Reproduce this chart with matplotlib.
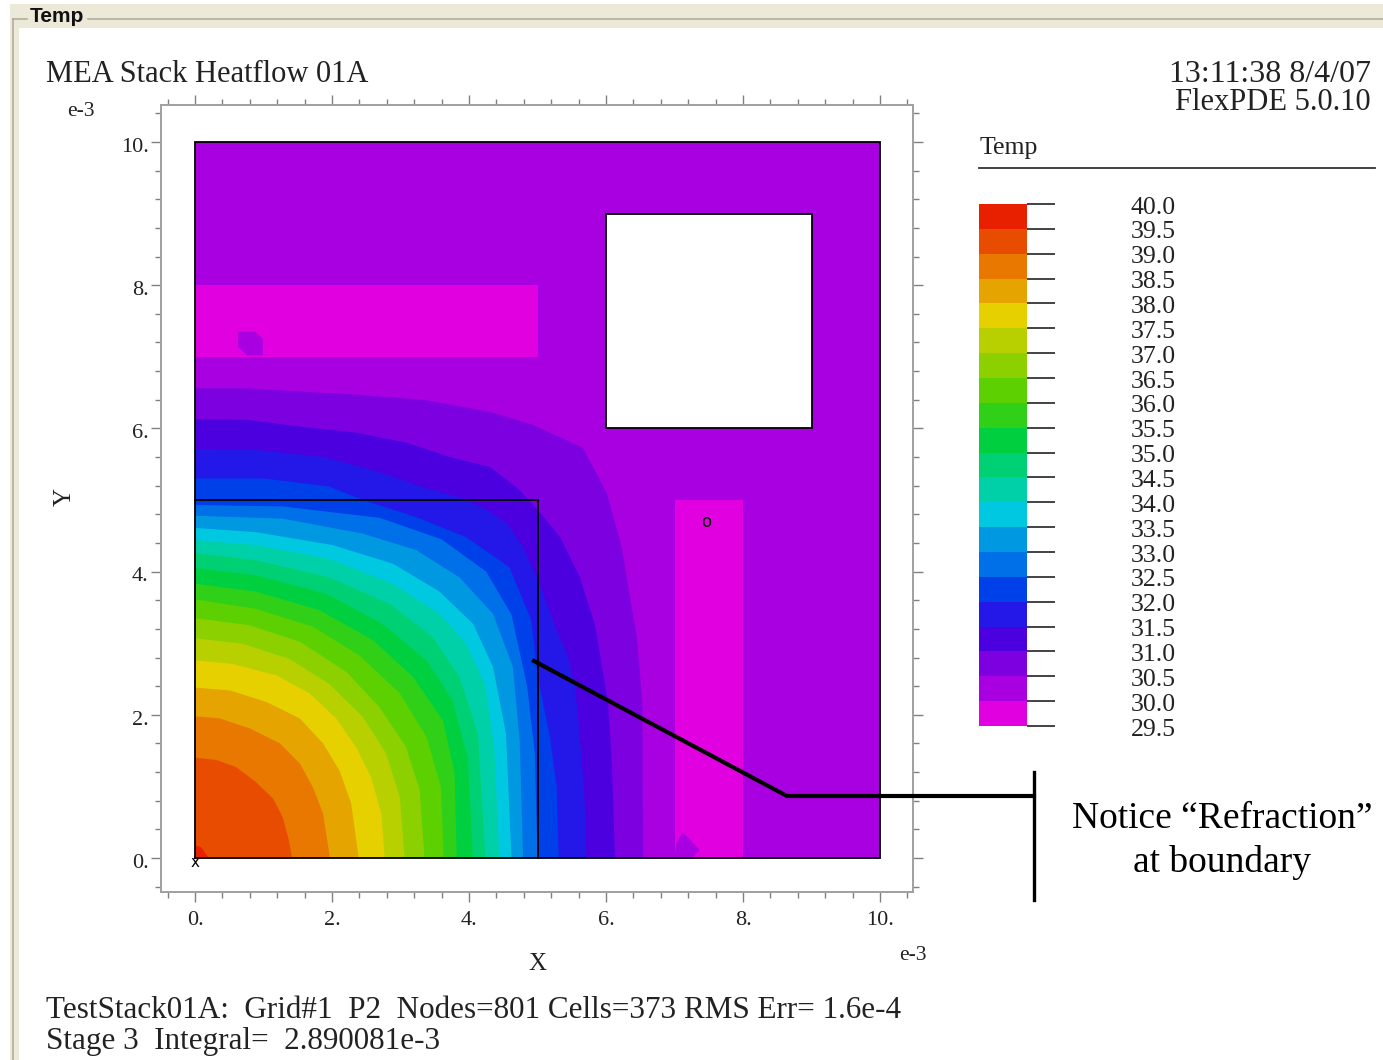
"""FlexPDE temperature plot: MEA stack heatflow, with a callout on refraction."""
import matplotlib
matplotlib.use("Agg")
import matplotlib.pyplot as plt
from matplotlib.patches import Rectangle
from matplotlib.transforms import ScaledTranslation

W, H = 1383, 1060
SERIF = "Liberation Serif"

# colour bar, top band first
LEVELS = [40.0, 39.5, 39.0, 38.5, 38.0, 37.5, 37.0, 36.5, 36.0, 35.5, 35.0,
          34.5, 34.0, 33.5, 33.0, 32.5, 32.0, 31.5, 31.0, 30.5, 30.0, 29.5]
BAND_COLORS = ["#e82000", "#e84c00", "#e87800", "#e6a400", "#e6d000", "#b8d000",
               "#8cd000", "#5cd000", "#30d018", "#00d040", "#00d074", "#00d0a8",
               "#00c8e0", "#0098e0", "#0070e8", "#0040e8", "#2418e8", "#4c00e0",
               "#7c00e0", "#a800e0", "#e000e0"]

# isotherms, (x, y) in units of 1e-3, running from the left edge to the bottom edge
ISO_395 = [(0, .18), (.09, .15), (.2, 0)]
ISO_390 = [(0, 1.40), (.31, 1.37), (.60, 1.27), (.89, 1.06), (1.14, .83), (1.28, .57), (1.36, .29), (1.42, 0)]
ISO_385 = [(0, 1.98), (.36, 1.95), (.80, 1.81), (1.24, 1.60), (1.53, 1.32), (1.72, .99), (1.87, .62), (1.97, 0)]
ISO_380 = [(0, 2.38), (.51, 2.34), (1.04, 2.18), (1.53, 1.95), (1.87, 1.60), (2.11, 1.22), (2.28, .76), (2.39, 0)]
ISO_375 = [(0, 2.76), (.55, 2.71), (1.19, 2.55), (1.67, 2.30), (2.06, 1.95), (2.35, 1.55), (2.57, 1.13), (2.72, .62), (2.77, 0)]
ISO_370 = [(0, 3.07), (.70, 2.99), (1.38, 2.78), (1.96, 2.43), (2.45, 1.97), (2.79, 1.46), (2.99, .85), (3.06, 0)]
ISO_365 = [(0, 3.35), (.80, 3.25), (1.53, 3.02), (2.21, 2.60), (2.69, 2.11), (3.08, 1.55), (3.28, .95), (3.35, 0)]
ISO_360 = [(0, 3.61), (.89, 3.48), (1.72, 3.23), (2.40, 2.83), (2.99, 2.30), (3.38, 1.69), (3.59, .99), (3.63, 0)]
ISO_355 = [(0, 3.83), (.89, 3.72), (1.82, 3.46), (2.60, 3.04), (3.18, 2.53), (3.62, 1.92), (3.79, 1.18), (3.82, 0)]
ISO_350 = [(0, 4.05), (.89, 3.95), (1.92, 3.69), (2.74, 3.27), (3.38, 2.76), (3.76, 2.20), (3.98, 1.41), (4.06, 0)]
ISO_345 = [(0, 4.26), (.89, 4.16), (1.96, 3.92), (2.84, 3.55), (3.47, 3.09), (3.86, 2.53), (4.13, 1.74), (4.24, 0)]
ISO_340 = [(0, 4.44), (.89, 4.37), (1.96, 4.18), (2.89, 3.83), (3.57, 3.41), (3.96, 2.99), (4.23, 2.43), (4.37, 1.55), (4.44, 0)]
ISO_335 = [(0, 4.61), (.89, 4.55), (2.01, 4.37), (2.89, 4.11), (3.57, 3.72), (4.06, 3.27), (4.35, 2.67), (4.54, 1.74), (4.62, 0)]
ISO_330 = [(0, 4.78), (1.28, 4.74), (2.45, 4.53), (3.23, 4.3), (3.86, 3.92), (4.35, 3.41), (4.64, 2.67), (4.74, 1.64), (4.79, 0)]
ISO_325 = [(0, 4.93), (1.28, 4.91), (2.7, 4.75), (3.6, 4.45), (4.25, 4.0), (4.62, 3.4), (4.85, 2.39), (4.96, 1.47), (5.0, 0)]
ISO_320 = [(0, 5.30), (1.0, 5.30), (1.95, 5.19), (2.45, 5.0), (3.23, 4.76), (3.96, 4.48), (4.59, 4.06),
           (4.91, 3.32), (5.0, 2.55), (5.18, 1.69), (5.28, .99), (5.31, 0)]
ISO_315 = [(0, 5.71), (.9, 5.70), (1.87, 5.6), (2.6, 5.42), (3.33, 5.18), (3.87, 5.03), (4.2, 4.9), (4.55, 4.68),
           (4.79, 4.34), (5.0, 3.9), (5.28, 3.18), (5.43, 2.86), (5.55, 2.39), (5.62, 1.69), (5.69, .77), (5.71, 0)]
ISO_310 = [(0, 6.13), (.76, 6.12), (1.58, 6.02), (2.36, 5.94), (3.09, 5.8), (3.72, 5.6), (4.31, 5.46), (4.74, 5.14),
           (5.04, 4.82), (5.33, 4.48), (5.62, 3.92), (5.84, 3.25), (5.91, 2.86), (6.03, 2.16), (6.09, 1.23), (6.13, 0)]
ISO_305 = [(0, 6.56), (.76, 6.56), (1.63, 6.51), (2.36, 6.47), (3.33, 6.4), (4.31, 6.23), (4.93, 6.05), (5.66, 5.73),
           (6.01, 5.1), (6.23, 4.34), (6.39, 3.42), (6.45, 3.09), (6.53, 2.16), (6.54, 0)]
# warmest first, so ISOTHERMS[i] encloses the area down to BAND_COLORS[i]
ISOTHERMS = [ISO_395, ISO_390, ISO_385, ISO_380, ISO_375, ISO_370, ISO_365, ISO_360, ISO_355, ISO_350,
             ISO_345, ISO_340, ISO_335, ISO_330, ISO_325, ISO_320, ISO_315, ISO_310, ISO_305]

# coolest patches inside the two strip materials, and the small warmer islands in them
STRIP_A = [(0, 7), (5, 7), (5, 8), (0, 8)]
STRIP_B = [(7, 0), (8, 0), (8, 5), (7, 5)]
ISLAND_A = [(.63, 7.35), (.88, 7.35), (.99, 7.25), (.99, 7.02), (.76, 7.02), (.63, 7.14)]
ISLAND_B = [(7.0, 0), (7.03, .2), (7.12, .36), (7.37, .11), (7.25, 0)]

# material outlines
OUTER_BOX = [(0, 0), (10, 0), (10, 10), (0, 10), (0, 0)]
INNER_BOX = [(0, 5), (5, 5), (5, 0)]
HOLE_BOX = [(6, 6), (9, 6), (9, 9), (6, 9), (6, 6)]

MAJOR_TICKS = [0, 2, 4, 6, 8, 10]
MINOR_TICKS = [-.4, .4, .8, 1.2, 1.6, 2.4, 2.8, 3.2, 3.6, 4.4, 4.8, 5.2, 5.6,
               6.4, 6.8, 7.2, 7.6, 8.4, 8.8, 9.2, 9.6, 10.4]
MAJOR_LABELS = ["0.", "2.", "4.", "6.", "8.", "10."]

CALLOUT = [(534, 661), (787, 796), (1034, 796)]
CALLOUT_BAR = [(1034, 772), (1034, 900)]


def px_rect(left, top, right, bottom):
    """Axes rectangle in figure fractions from image pixel edges."""
    return [left / W, 1 - bottom / H, (right - left) / W, (bottom - top) / H]


def overlay(fig, zorder):
    ax = fig.add_axes([0, 0, 1, 1], zorder=zorder)
    ax.set_xlim(0, W)
    ax.set_ylim(H, 0)
    ax.axis("off")
    return ax


fig = plt.figure(figsize=(W / 100, H / 100), dpi=100, facecolor="white")
bg = overlay(fig, 0)
fg = overlay(fig, 10)

# dialog frame around the plot
bg.add_patch(Rectangle((10, 4), W - 10, 24, color="#ece9d8", lw=0))
bg.add_patch(Rectangle((10, 28), 9, H - 28, color="#ece9d8", lw=0))
bg.plot([13, 13], [19, H], color="#aca899", lw=1.1)
bg.plot([13, 27], [19, 19], color="#aca899", lw=1.1)
bg.plot([88, W], [19, 19], color="#aca899", lw=1.1)
bg.text(30, 17, "Temp", family="Liberation Sans", weight="bold", fontsize=15, ha="left", va="center", color="#111111")

# contour plot
ax = fig.add_axes(px_rect(161, 105, 913, 892), zorder=1)
ax.set_xlim(-34 / 68.5, 718 / 68.5)
ax.set_ylim(-34 / 71.6, 753 / 71.6)

ax.fill(*zip(*OUTER_BOX), color=BAND_COLORS[19], lw=0)
ax.fill(*zip(*STRIP_A), color=BAND_COLORS[20], lw=0)
ax.fill(*zip(*STRIP_B), color=BAND_COLORS[20], lw=0)
ax.fill(*zip(*ISLAND_A), color=BAND_COLORS[19], lw=0)
ax.fill(*zip(*ISLAND_B), color=BAND_COLORS[19], lw=0)
# outermost isotherm first so warmer bands paint over cooler ones
for i in range(len(ISOTHERMS) - 1, -1, -1):
    pts = ISOTHERMS[i] + [(0, 0)]
    ax.fill(*zip(*pts), color=BAND_COLORS[i], lw=0)
ax.fill(*zip(*HOLE_BOX), color="white", lw=0)
for box in (OUTER_BOX, INNER_BOX, HOLE_BOX):
    ax.plot(*zip(*box), color="black", lw=1.3, solid_joinstyle="miter")

ax.text(0, -.06, "x", fontsize=11, ha="center", va="center", family="DejaVu Sans")
ax.text(7.46, 4.69, "o", fontsize=12, ha="center", va="center", family="DejaVu Sans")

for side in ax.spines.values():
    side.set_color("#a0a0a0")
    side.set_linewidth(1.4)
ax.set_xticks(MAJOR_TICKS, MAJOR_LABELS, family=SERIF, fontsize=16, color="#222222")
ax.set_yticks(MAJOR_TICKS, MAJOR_LABELS, family=SERIF, fontsize=16, color="#222222")
ax.set_xticks(MINOR_TICKS, minor=True)
ax.set_yticks(MINOR_TICKS, minor=True)
ax.tick_params(which="major", length=7.5, width=1, color="#808080", top=True, right=True)
ax.tick_params(axis="x", which="major", pad=6)
ax.tick_params(axis="y", which="major", pad=1.5)
ax.tick_params(which="minor", length=4, width=1, color="#808080", top=True, right=True)
# tick labels in the original sit slightly under their ticks
nudge = ScaledTranslation(0, -2 / 72, fig.dpi_scale_trans)
for label in ax.get_yticklabels():
    label.set_transform(label.get_transform() + nudge)

# colour bar
cb = fig.add_axes(px_rect(979, 204, 1027, 726), zorder=1)
for k, c in enumerate(BAND_COLORS):
    cb.bar(0, LEVELS[k] - LEVELS[k + 1], bottom=LEVELS[k + 1], width=1, color=c, lw=0, align="edge")
cb.set_xlim(0, 1)
cb.set_ylim(LEVELS[-1], LEVELS[0])
cb.set_xticks([])
for side in cb.spines.values():
    side.set_visible(False)
cb.yaxis.tick_right()
cb.set_yticks(LEVELS, [f"{v:.1f}" for v in LEVELS], family=SERIF, fontsize=18.5, color="#222222", ha="right")
cb.tick_params(axis="y", length=20, width=1.1, color="#111111", pad=87)
nudge_cb = ScaledTranslation(0, -.8 / 72, fig.dpi_scale_trans)
for label in cb.get_yticklabels():
    label.set_transform(label.get_transform() + nudge_cb)

# texts around the plot
t_kw = dict(family=SERIF, color="#222222", va="center")
bg.text(46, 74, "MEA Stack Heatflow 01A", fontsize=22, ha="left", **t_kw)
bg.text(1371, 74, "13:11:38 8/4/07", fontsize=23, ha="right", **t_kw)
bg.text(1371, 102, "FlexPDE 5.0.10", fontsize=22, ha="right", **t_kw)
bg.text(980, 148, "Temp", fontsize=18.5, ha="left", **t_kw)
bg.plot([979, 1375], [168, 168], color="#333333", lw=1.3)
bg.text(81, 112, "e-3", fontsize=15.5, ha="center", **t_kw)
bg.text(913, 955, "e-3", fontsize=15.5, ha="center", **t_kw)
bg.text(537, 964, "X", fontsize=18, ha="center", **t_kw)
bg.text(65, 497, "Y", fontsize=18, ha="center", rotation=90, **t_kw)
bg.text(46, 1011, "TestStack01A:  Grid#1  P2  Nodes=801 Cells=373 RMS Err= 1.6e-4", fontsize=22.4, ha="left", **t_kw)
bg.text(46, 1042, "Stage 3  Integral=  2.890081e-3", fontsize=22.4, ha="left", **t_kw)

# callout drawn over the plot
fg.plot(*zip(*CALLOUT), color="black", lw=3, solid_joinstyle="miter")
fg.plot(*zip(*CALLOUT_BAR), color="black", lw=2.4)
fg.text(1222, 841, "Notice “Refraction”\nat boundary", family=SERIF, fontsize=27, color="black",
        ha="center", va="center", linespacing=1.33)

fig.savefig("out.png", dpi=100)
